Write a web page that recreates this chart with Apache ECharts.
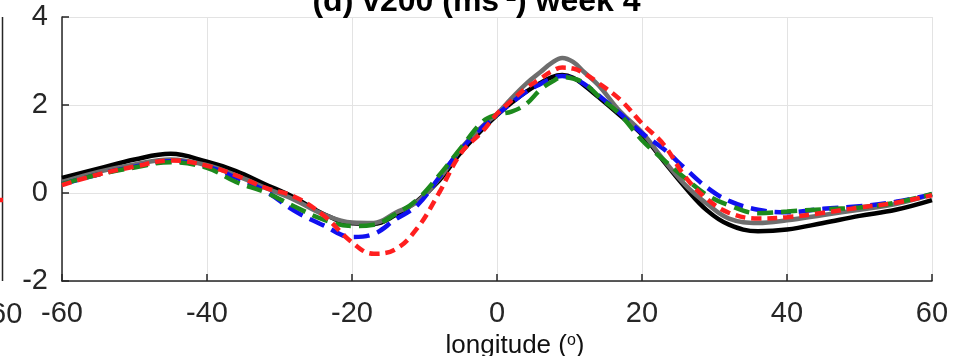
<!DOCTYPE html>
<html>
<head>
<meta charset="utf-8">
<title>v200 week 4</title>
<script src="https://cdn.jsdelivr.net/npm/echarts@6/dist/echarts.min.js"></script>
<style>
  html, body { margin: 0; padding: 0; background: #fff; }
  #chart { width: 953px; height: 356px; }
</style>
</head>
<body>
<div id="chart"></div>
<script>
// longitude samples shared by all five curves
const lon = [-60, -55, -50, -45, -40, -36, -32, -28, -24, -20, -17, -14, -11, -8, -5, -2, 0, 2, 4, 6, 7.5, 9, 10.5, 12, 14, 17, 20, 23, 26, 29, 32, 36, 40, 45, 50, 55, 60]

const blackLine = [0.34, 0.55, 0.76, 0.89, 0.71, 0.5, 0.2, -0.1, -0.47, -0.69, -0.7, -0.5, -0.18, 0.28, 0.92, 1.45, 1.77, 2.05, 2.3, 2.5, 2.63, 2.68, 2.62, 2.45, 2.18, 1.76, 1.33, 0.72, 0.12, -0.4, -0.72, -0.87, -0.83, -0.68, -0.52, -0.38, -0.16]
const grayLine = [0.25, 0.48, 0.65, 0.76, 0.63, 0.4, 0.12, -0.15, -0.48, -0.67, -0.68, -0.45, -0.2, 0.32, 1.0, 1.52, 1.8, 2.15, 2.48, 2.75, 2.95, 3.07, 2.98, 2.75, 2.45, 1.85, 1.38, 0.75, 0.18, -0.25, -0.58, -0.68, -0.62, -0.5, -0.38, -0.25, -0.03]
const blueLine = [0.2, 0.42, 0.6, 0.72, 0.6, 0.35, 0.05, -0.4, -0.73, -1.0, -0.93, -0.6, -0.28, 0.35, 0.98, 1.5, 1.78, 2.05, 2.3, 2.48, 2.6, 2.66, 2.6, 2.48, 2.22, 1.8, 1.36, 1.0, 0.55, 0.12, -0.18, -0.38, -0.44, -0.36, -0.3, -0.2, -0.03]
const greenLine = [0.2, 0.42, 0.58, 0.7, 0.57, 0.25, 0.02, -0.3, -0.6, -0.75, -0.72, -0.48, -0.15, 0.4, 1.02, 1.62, 1.78, 1.85, 2.02, 2.35, 2.52, 2.63, 2.6, 2.5, 2.2, 1.78, 1.2, 0.75, 0.33, -0.05, -0.28, -0.46, -0.42, -0.37, -0.33, -0.22, -0.02]
const redLine = [0.18, 0.42, 0.6, 0.74, 0.62, 0.4, 0.12, -0.08, -0.5, -1.12, -1.38, -1.28, -0.8, 0.0, 0.9, 1.4, 1.8, 2.1, 2.38, 2.6, 2.76, 2.85, 2.83, 2.72, 2.5, 2.12, 1.58, 1.1, 0.36, -0.14, -0.45, -0.58, -0.55, -0.45, -0.33, -0.22, -0.05]

const xTicks = [-60, -40, -20, 0, 20, 40, 60]
const yTicks = [-2, 0, 2, 4]

const font = "'Liberation Sans', Arial, sans-serif"
const pair = vals => lon.map((x, i) => [x, vals[i]])

const chart = echarts.init(document.getElementById('chart'))

function curve(name, vals, color, dash, z) {
  return {
    name,
    type: 'line',
    data: pair(vals),
    smooth: 0.4,
    symbol: 'none',
    z,
    lineStyle: { color, width: 4.5, type: dash, cap: 'butt' }
  }
}

chart.setOption({
  animation: false,
  title: {
    text: '(d) v200 (ms{sup|-1}) week 4',
    left: 'center',
    top: -19,
    textStyle: {
      fontFamily: font,
      fontSize: 32,
      fontWeight: 'bold',
      color: '#000',
      rich: {
        sup: { fontSize: 19, fontWeight: 'bold', verticalAlign: 'top', padding: [0, 0, 14, 0] }
      }
    }
  },
  grid: { left: 62, right: 21, top: 17, bottom: 75, outerBoundsMode: 'none', containLabel: false },
  xAxis: {
    type: 'value',
    min: -60,
    max: 60,
    interval: 20,
    name: 'longitude ({s|o})',
    nameLocation: 'middle',
    nameGap: 50,
    nameTextStyle: {
      fontFamily: font, fontSize: 26, color: '#111',
      padding: [0, 0, 0, 36],
      rich: { s: { fontFamily: font, fontSize: 16, color: '#111', verticalAlign: 'top', padding: [0, 0, 8, 0] } }
    },
    axisLine: { onZero: false, lineStyle: { color: '#262626', width: 1.5 } },
    axisTick: { inside: true, length: 7, lineStyle: { color: '#262626', width: 1.5 } },
    axisLabel: {
      fontFamily: font, fontSize: 29, color: '#262626', margin: 18,
      customValues: xTicks
    },
    splitLine: { show: true, lineStyle: { color: '#e3e3e3', width: 1 } }
  },
  yAxis: {
    type: 'value',
    min: -2,
    max: 4,
    interval: 2,
    axisLine: { show: true, onZero: false, lineStyle: { color: '#262626', width: 1.5 } },
    axisTick: { show: true, inside: true, length: 7, lineStyle: { color: '#262626', width: 1.5 } },
    axisLabel: {
      fontFamily: font, fontSize: 29, color: '#262626', margin: 14,
      customValues: yTicks
    },
    splitLine: { show: true, lineStyle: { color: '#e3e3e3', width: 1 } }
  },
  graphic: [
    // edge of the neighbouring panel, cut off at the left
    { type: 'line', shape: { x1: 2.5, y1: 17, x2: 2.5, y2: 281 }, style: { stroke: '#262626', lineWidth: 1.5 } },
    { type: 'line', shape: { x1: 0, y1: 200, x2: 3, y2: 200 }, style: { stroke: '#ff1a1a', lineWidth: 4.5 } },
    { type: 'text', x: -10, y: 300, style: { text: '60', font: "29px 'Liberation Sans', Arial", fill: '#262626' } }
  ],
  series: [
    curve('black', blackLine, '#000000', 'solid', 2),
    curve('gray', grayLine, '#6e6e6e', 'solid', 3),
    curve('blue', blueLine, '#1010f0', [16, 8], 4),
    curve('green', greenLine, '#1d8a1d', [16, 8], 5),
    curve('red', redLine, '#ff1f1f', [10, 6], 6)
  ]
})
</script>
</body>
</html>
